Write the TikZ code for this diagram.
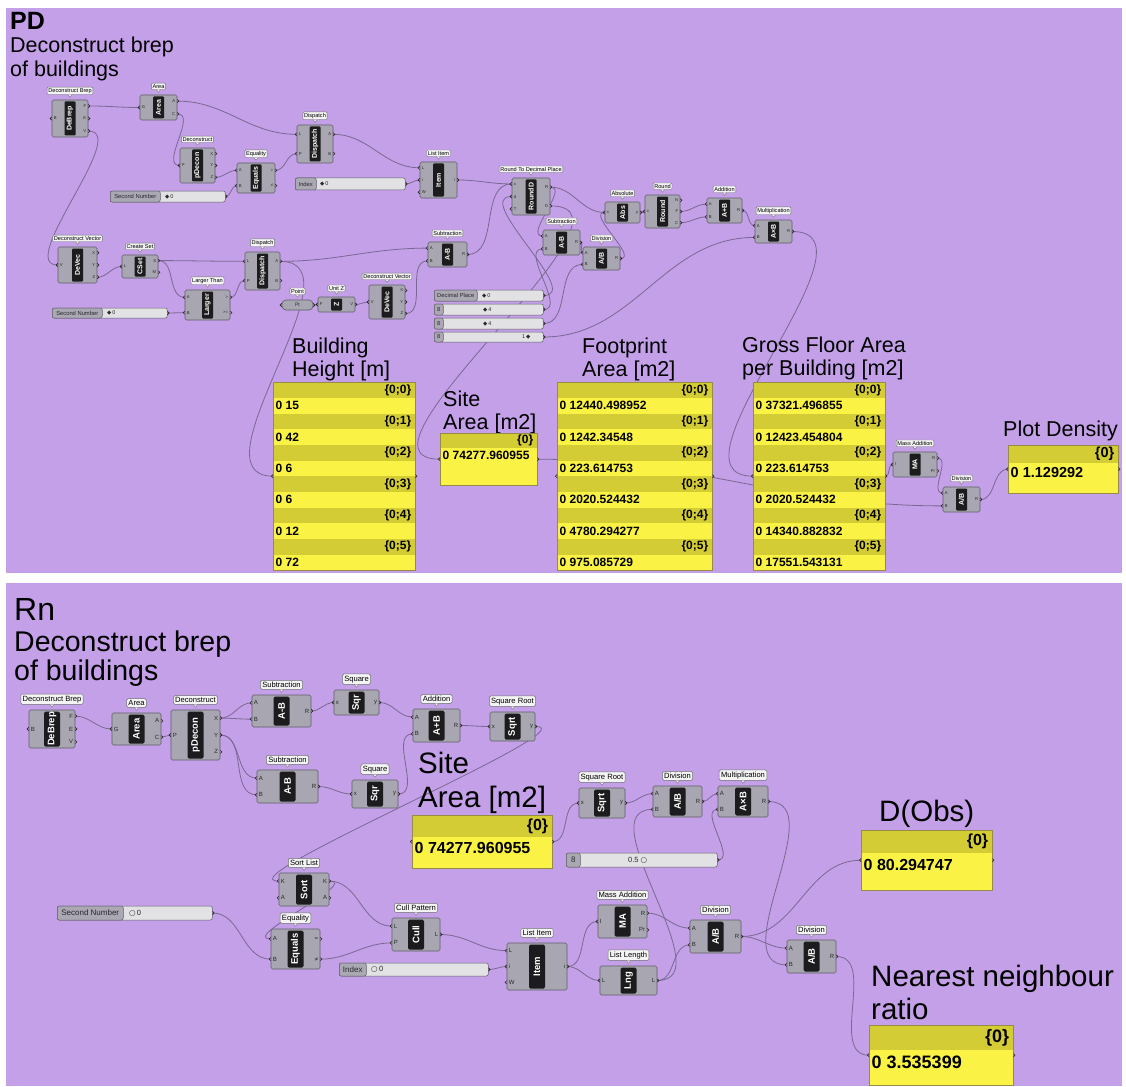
\documentclass[tikz,border=0pt]{standalone}
\usepackage{fontspec}
\setmainfont{Liberation Sans}
\newfontfamily\symfont{DejaVu Sans}
\usetikzlibrary{positioning,calc}
\definecolor{canvas}{RGB}{195,160,232}
\definecolor{compfill}{RGB}{168,166,176}
\definecolor{compline}{RGB}{96,94,104}
\definecolor{stripc}{RGB}{28,28,30}
\definecolor{tagfill}{RGB}{244,244,244}
\definecolor{tagline}{RGB}{110,110,115}
\definecolor{pinc}{RGB}{40,40,45}
\definecolor{wirec}{RGB}{122,104,146}
\definecolor{panelfill}{RGB}{250,243,70}
\definecolor{panelhead}{RGB}{212,204,52}
\definecolor{panelline}{RGB}{150,140,70}
\definecolor{sliderfill}{RGB}{226,226,228}
\definecolor{sliderlab}{RGB}{170,168,178}
\pgfdeclarelayer{bg}
\pgfdeclarelayer{wires}
\pgfsetlayers{bg,wires,main}
\newcommand{\sdia}{{\symfont ◆}}
\newcommand{\scirc}{{\symfont ○}}
\tikzset{
    gbody/.style = {draw=compline, fill=compfill, rounded corners=1.5pt, line width=0.6pt, inner sep=0pt},
    gstrips/.style = {fill=stripc, rounded corners=1pt, inner sep=0pt, minimum width=11pt},
    gstripl/.style = {fill=stripc, rounded corners=1.5pt, inner sep=0pt, minimum width=16pt},
    gnicks/.style = {white, rotate=90, inner sep=0pt, font=\bfseries\fontsize{7}{8}\selectfont},
    gnickl/.style = {white, rotate=90, inner sep=0pt, font=\bfseries\fontsize{9.5}{10}\selectfont},
    gtags/.style = {draw=tagline, fill=tagfill, rounded corners=1pt, inner sep=1.2pt, line width=0.4pt, font=\fontsize{5.6}{6}\selectfont},
    gtagl/.style = {draw=tagline, fill=tagfill, rounded corners=1.5pt, inner sep=1.8pt, line width=0.5pt, font=\fontsize{7.6}{8}\selectfont},
    gtagtip/.style = {draw=tagline, fill=tagfill, line width=0.4pt},
    gpins/.style = {inner sep=0pt, text=pinc, font=\fontsize{4.2}{5}\selectfont},
    gpinl/.style = {inner sep=0pt, text=pinc, font=\fontsize{6}{7}\selectfont},
    gport/.style = {draw=black!85, line width=0.6pt},
    gslider/.style = {draw=compline, fill=sliderfill, rounded corners=2pt, line width=0.5pt, inner sep=0pt},
    gslabels/.style = {draw=compline, fill=sliderlab, rounded corners=2pt, line width=0.5pt, inner sep=0pt, text=pinc, font=\fontsize{5.8}{6}\selectfont},
    gslabell/.style = {draw=compline, fill=sliderlab, rounded corners=2pt, line width=0.5pt, inner sep=0pt, text=pinc, font=\fontsize{8}{9}\selectfont},
    gsvalues/.style = {inner sep=0pt, text=pinc, font=\fontsize{5.5}{6}\selectfont},
    gsvaluel/.style = {inner sep=0pt, text=pinc, font=\fontsize{7.5}{8}\selectfont},
    gparam/.style = {draw=compline, fill=compfill, rounded corners=4pt, line width=0.6pt, inner sep=0pt, minimum width=31pt, minimum height=10pt, text=pinc, font=\fontsize{5}{6}\selectfont},
    gpanel/.style = {fill=panelfill, inner sep=0pt},
    gphead/.style = {fill=panelhead, inner sep=0pt},
    gpanelline/.style = {draw=panelline, line width=0.8pt},
    gptexta/.style = {inner sep=0pt, font=\bfseries\fontsize{12}{13}\selectfont},
    gptextb/.style = {inner sep=0pt, font=\bfseries\fontsize{14.5}{15}\selectfont},
    gptextc/.style = {inner sep=0pt, font=\bfseries\fontsize{16}{17}\selectfont},
    gptextd/.style = {inner sep=0pt, font=\bfseries\fontsize{18}{19}\selectfont},
    heads/.style = {inner sep=0pt, anchor=base west, font=\fontsize{21.5}{24}\selectfont},
    headl/.style = {inner sep=0pt, anchor=base west, font=\fontsize{29.5}{33}\selectfont},
    wire/.style = {draw=wirec, line width=0.8pt, out=0, in=180}
}
% component: name, centre, width, height, tag, nickname, inputs, outputs, size
\newcommand{\ghcomp}[9]{%
    \node[gbody, minimum width=#3, minimum height=#4] (#1) at (#2) {};
    \node[gstrip#9, minimum height=#4-3] (#1-k) at (#1.center) {};
    \node[gnick#9] at (#1.center) {#6};
    \node[gtag#9, anchor=south] (#1-t) at ([yshift=5pt]#1.north) {#5};
    \path[gtagtip] ([xshift=-2pt]#1-t.south) -- ([yshift=-2.5pt]#1-t.south) -- ([xshift=2pt]#1-t.south);
    \foreach \p [count=\i] in {#7} {\xdef\ghn{\i}}
    \foreach \p [count=\i] in {#7} {
        \coordinate (#1-i\i) at ($(#1.north west)!{(\i-0.5)/\ghn}!(#1.south west)$);
        \draw[gport] ([yshift=1.6pt]#1-i\i) arc[start angle=90, end angle=270, radius=1.6pt];
        \node[gpin#9, anchor=west] at ([xshift=2pt]#1-i\i) {\p};
    }
    \foreach \p [count=\i] in {#8} {\xdef\ghm{\i}}
    \foreach \p [count=\i] in {#8} {
        \coordinate (#1-o\i) at ($(#1.north east)!{(\i-0.5)/\ghm}!(#1.south east)$);
        \draw[gport] ([yshift=1.6pt]#1-o\i) arc[start angle=90, end angle=-90, radius=1.6pt];
        \node[gpin#9, anchor=east] at ([xshift=-2pt]#1-o\i) {\p};
    }
}
% slider: name, west point, width, height, label width, label, value, value offset, size
\newcommand{\ghslider}[9]{%
    \node[gslider, minimum width=#3, minimum height=#4, anchor=west] (#1) at (#2) {};
    \node[gslabel#9, minimum width=#5, minimum height=#4, anchor=west] (#1-l) at (#1.west) {#6};
    \node[gsvalue#9, anchor=west] (#1-v) at ([xshift=#8]#1.west) {#7};
    \coordinate (#1-o1) at (#1.east);
    \draw[gport] ([yshift=1.6pt]#1-o1) arc[start angle=90, end angle=-90, radius=1.6pt];
}
% panel: name, north west, width, height, row height, rows, text size
\newcommand{\ghpanel}[7]{%
    \node[gpanel, minimum width=#3, minimum height=#4, anchor=north west] (#1) at (#2) {};
    \foreach \pa/\va [count=\i] in {#6} {
        \node[gphead, minimum width=#3, minimum height=#5, anchor=north west] (#1-h\i) at ([yshift={-(2*\i-2)*#5}]#1.north west) {};
        \node[gptext#7, anchor=east] at ([xshift=-4pt]#1-h\i.east) {\{\pa\}};
        \node[gptext#7, anchor=west] at ([xshift=2.5pt, yshift=-#5]#1-h\i.west) {0 \va};
    }
    \draw[gpanelline] (#1.north west) rectangle (#1.south east);
    \coordinate (#1-i) at (#1.west);
    \coordinate (#1-o) at (#1.east);
    \draw[gport] ([yshift=1.6pt]#1-i) arc[start angle=90, end angle=270, radius=1.6pt];
    \draw[gport] ([yshift=1.6pt]#1-o) arc[start angle=90, end angle=-90, radius=1.6pt];
}

\begin{document}
\begin{tikzpicture}[x=1pt, y=-1pt]
    \useasboundingbox (0,0) rectangle (1126,1086);
    \begin{pgfonlayer}{bg}
        \fill[white] (0,0) rectangle (1126,1086);
        \fill[canvas] (6,8) rectangle (1122,573);
        \fill[canvas] (6,583) rectangle (1122,1086);
    \end{pgfonlayer}

    % PD
    \node[heads, font=\bfseries\fontsize{25}{28}\selectfont] (pdName) at (10,30) {PD};
    \node[heads] (pdNoteA) at (10,53) {Deconstruct brep};
    \node[heads] (pdNoteB) at (10,77) {of buildings};

    \ghcomp{tDeBrep}{70,118.5}{36}{37}{Deconstruct Brep}{DeBrep}{B}{F,E,V}{s}
    \ghcomp{tArea}{158.5,107.5}{37}{25}{Area}{Area}{G}{A,C}{s}
    \ghcomp{tDecon}{197.5,165.5}{35}{35}{Deconstruct}{pDecon}{P}{X,Y,Z}{s}
    \ghcomp{tEq}{256,178}{38}{30}{Equality}{Equals}{A,B}{=,≠}{s}
    \ghcomp{tDisp1}{315,144}{36}{38}{Dispatch}{Dispatch}{L,P}{A,B}{s}
    \ghcomp{tDeVec1}{77.5,265}{39}{36}{Deconstruct Vector}{DeVec}{V}{X,Y,Z}{s}
    \ghcomp{tCSet}{140,266.5}{36}{23}{Create Set}{CSet}{L}{S,M}{s}
    \ghcomp{tDisp2}{262.5,271}{35}{38}{Dispatch}{Dispatch}{L,P}{A,B}{s}
    \ghcomp{tLarger}{207.5,305}{45}{30}{Larger Than}{Larger}{A,B}{>,>=}{s}
    \ghcomp{tUnitZ}{336.5,304.5}{37}{15}{Unit Z}{Z}{F}{V}{s}
    \ghcomp{tDeVec2}{387,302}{36}{34}{Deconstruct Vector}{DeVec}{V}{X,Y,Z}{s}
    \ghcomp{tItem}{438.5,180}{37}{36}{List Item}{Item}{L,i,W}{i}{s}
    \ghcomp{tRound}{531,196.5}{38}{37}{Round To Decimal Place}{RoundD}{x,d,T}{R,D}{s}
    \ghcomp{tSub1}{447.5,254.5}{39}{25}{Subtraction}{A-B}{A,B}{R}{s}
    \ghcomp{tSub2}{561.5,242.5}{37}{25}{Subtraction}{A-B}{A,B}{R}{s}
    \ghcomp{tDiv}{601.5,258.5}{37}{23}{Division}{A/B}{A,B}{R}{s}
    \ghcomp{tAbs}{622.5,212.5}{35}{21}{Absolute}{Abs}{x}{y}{s}
    \ghcomp{tRnd}{662.5,211.5}{35}{33}{Round}{Round}{x}{N,F,C}{s}
    \ghcomp{tAdd}{724.5,210.5}{35}{25}{Addition}{A+B}{A,B}{R}{s}
    \ghcomp{tMul}{773.5,231.5}{37}{23}{Multiplication}{A×B}{A,B}{R}{s}
    \ghcomp{tMA}{915,464.5}{44}{25}{Mass Addition}{MA}{I}{R,Pr}{s}
    \ghcomp{tDiv2}{961.5,499.5}{37}{25}{Division}{A/B}{A,B}{R}{s}

    \node[gparam] (tPoint) at (297.5,305) {Pt};
    \node[gtags, anchor=south] (tPoint-t) at ([yshift=5pt]tPoint.north) {Point};
    \path[gtagtip] ([xshift=-2pt]tPoint-t.south) -- ([yshift=-2.5pt]tPoint-t.south) -- ([xshift=2pt]tPoint-t.south);
    \coordinate (tPoint-o1) at (tPoint.east);
    \draw[gport] ([yshift=1.6pt]tPoint.west) arc[start angle=90, end angle=270, radius=1.6pt];
    \draw[gport] ([yshift=1.6pt]tPoint-o1) arc[start angle=90, end angle=-90, radius=1.6pt];

    \ghslider{tSec1}{110,196.5}{115}{11}{50}{Second Number}{\sdia\,0}{55}{s}
    \ghslider{tIndex}{295,184}{110}{12}{21}{Index}{\sdia\,0}{25}{s}
    \ghslider{tSec2}{52,313}{115}{10}{50}{Second Number}{\sdia\,0}{55}{s}
    \ghslider{tDec}{434,295.5}{109}{11}{43}{Decimal Place}{\sdia\,0}{48}{s}
    \ghslider{tEightA}{434,309.5}{109}{11}{9}{8}{\sdia\,4}{49}{s}
    \ghslider{tEightB}{434,323.5}{109}{11}{9}{8}{\sdia\,4}{49}{s}
    \ghslider{tEightC}{434,337}{109}{10}{9}{8}{1\,\sdia}{88}{s}

    \node[heads] (tHeightA) at (292,353) {Building};
    \node[heads] (tHeightB) at (292,376) {Height [m]};
    \node[heads] (tSiteA) at (443,406) {Site};
    \node[heads] (tSiteB) at (443,429) {Area [m2]};
    \node[heads] (tFootA) at (582,353) {Footprint};
    \node[heads] (tFootB) at (582,376) {Area [m2]};
    \node[heads] (tGfaA) at (742,352) {Gross Floor Area};
    \node[heads] (tGfaB) at (742,375) {per Building [m2]};
    \node[heads] (tPdLab) at (1003,436) {Plot Density};

    \ghpanel{tHeight}{273,382}{142}{188}{15.67}{0;0/15,0;1/42,0;2/6,0;3/6,0;4/12,0;5/72}{a}
    \ghpanel{tSite}{440,433}{97}{52}{15}{0/74277.960955}{a}
    \ghpanel{tFoot}{557,382}{155}{188}{15.67}{0;0/12440.498952,0;1/1242.34548,0;2/223.614753,0;3/2020.524432,0;4/4780.294277,0;5/975.085729}{a}
    \ghpanel{tGfa}{753,382}{132}{188}{15.67}{0;0/37321.496855,0;1/12423.454804,0;2/223.614753,0;3/2020.524432,0;4/14340.882832,0;5/17551.543131}{a}
    \ghpanel{tPd}{1008,445}{110}{48}{18}{0/1.129292}{b}

    % Rn
    \node[headl, font=\fontsize{32}{34}\selectfont] (rnName) at (14,620) {Rn};
    \node[headl, font=\fontsize{28.5}{30}\selectfont] (rnNoteA) at (14,651) {Deconstruct brep};
    \node[headl, font=\fontsize{28.5}{30}\selectfont] (rnNoteB) at (14,680) {of buildings};

    \ghcomp{bDeBrep}{52,729}{46}{38}{Deconstruct Brep}{DeBrep}{B}{F,E,V}{l}
    \ghcomp{bArea}{136.5,729}{49}{32}{Area}{Area}{G}{A,C}{l}
    \ghcomp{bDecon}{195.5,735}{49}{50}{Deconstruct}{pDecon}{P}{X,Y,Z}{l}
    \ghcomp{bSub1}{281.5,711}{59}{32}{Subtraction}{A-B}{A,B}{R}{l}
    \ghcomp{bSqr1}{356.5,702.5}{45}{25}{Square}{Sqr}{x}{y}{l}
    \ghcomp{bAdd}{436.5,725.5}{47}{33}{Addition}{A+B}{A,B}{R}{l}
    \ghcomp{bSqrt1}{512.5,726.5}{45}{29}{Square Root}{Sqrt}{x}{y}{l}
    \ghcomp{bSub2}{287.5,786.5}{61}{33}{Subtraction}{A-B}{A,B}{R}{l}
    \ghcomp{bSqr2}{375,794}{46}{28}{Square}{Sqr}{x}{y}{l}
    \ghcomp{bSqrt2}{602,803}{46}{30}{Square Root}{Sqrt}{x}{y}{l}
    \ghcomp{bDiv1}{677.5,801.5}{49}{31}{Division}{A/B}{A,B}{R}{l}
    \ghcomp{bMul}{743,801.5}{50}{31}{Multiplication}{A×B}{A,B}{R}{l}
    \ghcomp{bSort}{304,889.5}{50}{33}{Sort List}{Sort}{K,A}{K,A}{l}
    \ghcomp{bEq}{295.5,949}{49}{40}{Equality}{Equals}{A,B}{=,≠}{l}
    \ghcomp{bCull}{416,934.5}{48}{33}{Cull Pattern}{Cull}{L,P}{L}{l}
    \ghcomp{bItem}{537,966.5}{60}{47}{List Item}{Item}{L,i,W}{i}{l}
    \ghcomp{bMA}{622.5,921.5}{49}{33}{Mass Addition}{MA}{I}{R,Pr}{l}
    \ghcomp{bLng}{628.5,980.5}{57}{29}{List Length}{Lng}{L}{L}{l}
    \ghcomp{bDiv2}{715.5,936.5}{51}{33}{Division}{A/B}{A,B}{R}{l}
    \ghcomp{bDiv3}{811.5,956.5}{49}{33}{Division}{A/B}{A,B}{R}{l}

    \ghslider{bSec}{57,913}{155}{14}{66}{Second Number}{\scirc\,0}{72}{l}
    \ghslider{bIdx}{339,969.5}{149}{13}{27}{Index}{\scirc\,0}{32}{l}
    \ghslider{bHalf}{566,860}{151}{14}{14}{8}{0.5 \scirc}{62}{l}

    \node[headl] (bSiteA) at (418,773) {Site};
    \node[headl] (bSiteB) at (418,807) {Area [m2]};
    \node[headl] (bDObsLab) at (879,821) {D(Obs)};
    \node[headl] (bNnA) at (871,986) {Nearest neighbour};
    \node[headl] (bNnB) at (871,1019) {ratio};

    \ghpanel{bSite}{412,815}{140}{53}{22}{0/74277.960955}{c}
    \ghpanel{bDObs}{861,830}{131}{60}{23}{0/80.294747}{c}
    \ghpanel{bNn}{869,1025}{144}{60}{25}{0/3.535399}{d}

    \begin{pgfonlayer}{wires}
        \draw[wire] (tDeBrep-o1) to (tArea-i1);
        \draw[wire, looseness=0.8] (tDeBrep-o3) to (tDeVec1-i1);
        \draw[wire] (tArea-o1) to (tDisp1-i1);
        \draw[wire] (tArea-o2) to (tDecon-i1);
        \draw[wire] (tDecon-o3) to (tEq-i1);
        \draw[wire] (tSec1-o1) to (tEq-i2);
        \draw[wire] (tEq-o1) to (tDisp1-i2);
        \draw[wire] (tDisp1-o1) to (tItem-i1);
        \draw[wire] (tIndex-o1) to (tItem-i2);
        \draw[wire] (tDeVec1-o3) to (tCSet-i1);
        \draw[wire] (tCSet-o1) to (tDisp2-i1);
        \draw[wire] (tCSet-o1) to (tLarger-i1);
        \draw[wire] (tSec2-o1) to (tLarger-i2);
        \draw[wire] (tLarger-o1) to (tDisp2-i2);
        \draw[wire] (tDisp2-o1) to (tSub1-i1);
        \draw[wire] (tDisp2-o1) to (tHeight-i);
        \draw[wire] (tPoint-o1) to (tUnitZ-i1);
        \draw[wire] (tUnitZ-o1) to (tDeVec2-i1);
        \draw[wire] (tDeVec2-o3) to (tSub1-i2);
        \draw[wire] (tSub1-o1) to (tRound-i1);
        \draw[wire] (tItem-o1) to (tRound-i1);
        \draw[wire] (tDec-o1) to (tRound-i2);
        \draw[wire] (tRound-o1) to (tSub2-i1);
        \draw[wire] (tRound-o1) to (tAbs-i1);
        \draw[wire] (tRound-o2) to (tSite-i);
        \draw[wire] (tEightA-o1) to (tSub2-i2);
        \draw[wire] (tSub2-o1) to (tDiv-i1);
        \draw[wire] (tEightB-o1) to (tDiv-i2);
        \draw[wire] (tDiv-o1) to (tAbs-i1);
        \draw[wire] (tAbs-o1) to (tRnd-i1);
        \draw[wire] (tRnd-o2) to (tAdd-i1);
        \draw[wire] (tRnd-o3) to (tAdd-i2);
        \draw[wire] (tEightC-o1) to (tMul-i2);
        \draw[wire] (tAdd-o1) to (tMul-i1);
        \draw[wire] (tMul-o1) to (tGfa-i);
        \draw[wire] (tSite-o) to (tDiv2-i2);
        \draw[wire] (tGfa-o) to (tMA-i1);
        \draw[wire] (tMA-o1) to (tDiv2-i1);
        \draw[wire] (tDiv2-o1) to (tPd-i);

        \draw[wire] (bDeBrep-o1) to (bArea-i1);
        \draw[wire] (bArea-o2) to (bDecon-i1);
        \draw[wire] (bDecon-o1) to (bSub1-i1);
        \draw[wire] (bDecon-o1) to (bSub1-i2);
        \draw[wire] (bDecon-o2) to (bSub2-i1);
        \draw[wire] (bDecon-o2) to (bSub2-i2);
        \draw[wire] (bSub1-o1) to (bSqr1-i1);
        \draw[wire] (bSub2-o1) to (bSqr2-i1);
        \draw[wire] (bSqr1-o1) to (bAdd-i1);
        \draw[wire] (bSqr2-o1) to (bAdd-i2);
        \draw[wire] (bAdd-o1) to (bSqrt1-i1);
        \draw[wire, looseness=0.5] (bSqrt1-o1) to (bSort-i1);
        \draw[wire] (bSite-o) to (bSqrt2-i1);
        \draw[wire] (bSqrt2-o1) to (bDiv1-i1);
        \draw[wire] (bLng-o1) to (bDiv1-i2);
        \draw[wire] (bDiv1-o1) to (bMul-i1);
        \draw[wire] (bHalf-o1) to (bMul-i2);
        \draw[wire] (bMul-o1) to (bDiv3-i2);
        \draw[wire] (bSec-o1) to (bEq-i2);
        \draw[wire] (bSort-o1) to (bEq-i1);
        \draw[wire] (bSort-o1) to (bCull-i1);
        \draw[wire] (bEq-o2) to (bCull-i2);
        \draw[wire] (bCull-o1) to (bItem-i1);
        \draw[wire] (bIdx-o1) to (bItem-i2);
        \draw[wire] (bItem-o1) to (bMA-i1);
        \draw[wire] (bItem-o1) to (bLng-i1);
        \draw[wire] (bMA-o1) to (bDiv2-i1);
        \draw[wire] (bLng-o1) to (bDiv2-i2);
        \draw[wire] (bDiv2-o1) to (bDObs-i);
        \draw[wire] (bDiv2-o1) to (bDiv3-i1);
        \draw[wire] (bDiv3-o1) to (bNn-i);
    \end{pgfonlayer}
\end{tikzpicture}
\end{document}
